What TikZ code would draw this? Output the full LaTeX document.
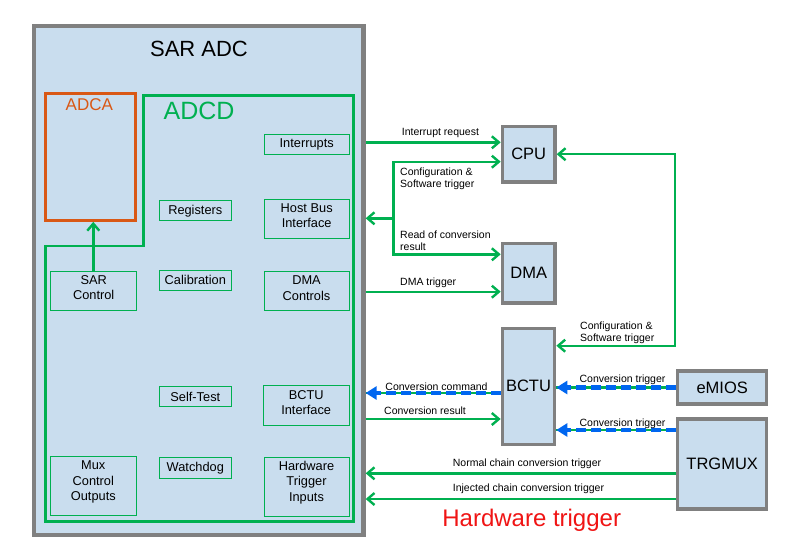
\documentclass[tikz,border=0pt]{standalone}
\usepackage{fontspec}
\setmainfont{Liberation Sans}
\usetikzlibrary{arrows.meta}
\definecolor{gfill}{RGB}{201,221,238}
\definecolor{ggreen}{RGB}{0,176,80}
\definecolor{gblue}{RGB}{0,102,240}
\definecolor{gorange}{RGB}{217,88,21}
\definecolor{ggray}{RGB}{128,128,128}
\definecolor{hwred}{RGB}{240,20,20}
\begin{document}
\begin{tikzpicture}[x=1pt,y=-1pt,
  bigbox/.style={draw=ggray, line width=3.3pt, fill=gfill, inner sep=0pt, font=\fontsize{16.5}{19}\selectfont},
  inbox/.style={draw=ggreen, line width=0.8pt, inner sep=0pt, align=center, font=\fontsize{12.8}{15.4}\selectfont},
  twoline/.style={text depth=6pt},
  threeline/.style={text depth=11pt},
  lab/.style={font=\fontsize{10.5}{12}\selectfont, inner sep=0pt, align=left},
  gline/.style={draw=ggreen, line width=2.4pt},
  garr/.style={gline, -{Straight Barb[length=7pt,width=12pt]}},
  garrb/.style={gline, {Straight Barb[length=7pt,width=12pt]}-{Straight Barb[length=7pt,width=12pt]}},
  barr/.style={draw=gblue, line width=4.5pt, dash pattern=on 10pt off 5pt, -{Triangle[length=11pt,width=13pt]}},
  bline/.style={draw=ggreen, line width=2.2pt}]
\useasboundingbox (0,0) rectangle (786,552);
\fill[white] (0,0) rectangle (786,552);

% SAR ADC outer box
\node[draw=ggray, line width=4.3pt, fill=gfill, minimum width=329.2pt, minimum height=509pt] (sar) at (198.9,280.5) {};
\node[anchor=base, font=\fontsize{22}{26}\selectfont] (sartitle) at (199,56) {SAR ADC};

% ADCA
\node[draw=gorange, line width=2.7pt, minimum width=90pt, minimum height=127.2pt] (adca) at (90.3,156.9) {};
\node[anchor=base, text=gorange, font=\fontsize{17}{20}\selectfont] (adcalabel) at (89.3,110) {ADCA};

% ADCD outline
\draw[ggreen, line width=2.7pt, line join=miter] (45.3,246) -- (143.8,246) -- (143.8,95.2) -- (353.3,95.2) -- (353.3,521.5) -- (45.3,521.5) -- cycle;
\node[anchor=base, text=ggreen, font=\fontsize{25}{29}\selectfont] (adcdlabel) at (199,119.3) {ADCD};

% inner boxes
\node[inbox, minimum width=85pt, minimum height=20pt] (int) at (306.7,144.3) {Interrupts};
\node[inbox, minimum width=72.7pt, minimum height=20pt] (reg) at (195.3,210.7) {Registers};
\node[inbox, twoline, minimum width=85pt, minimum height=39pt] (hbi) at (306.7,218.8) {Host Bus\\Interface};
\node[inbox, twoline, minimum width=86pt, minimum height=38.3pt] (sarc) at (93.7,290.8) {SAR\\Control};
\node[inbox, minimum width=72.7pt, minimum height=20.7pt] (cal) at (195.3,280.3) {Calibration};
\node[inbox, twoline, minimum width=85pt, minimum height=39pt] (dmac) at (306.5,291.2) {DMA\\Controls};
\node[inbox, minimum width=72.7pt, minimum height=20pt] (self) at (195.3,396.7) {Self-Test};
\node[inbox, twoline, minimum width=85.7pt, minimum height=40pt] (bctui) at (306.2,405.7) {BCTU\\Interface};
\node[inbox, threeline, minimum width=85.3pt, minimum height=59pt] (mux) at (93.3,486.2) {Mux\\Control\\Outputs};
\node[inbox, minimum width=72.7pt, minimum height=20.7pt] (wd) at (195.3,468) {Watchdog};
\node[inbox, threeline, minimum width=85pt, minimum height=59pt] (hti) at (306.5,486.5) {Hardware\\Trigger\\Inputs};

\draw[garr] (sarc.north -| 93.3,0) -- (adca.south -| 93.3,0);

% right boxes
\node[bigbox, minimum width=52.7pt, minimum height=55.5pt] (cpu) at (528.7,154.2) {CPU};
\node[bigbox, minimum width=52.7pt, minimum height=59.7pt] (dma) at (528.7,273.2) {DMA};
\node[bigbox, minimum width=52.4pt, minimum height=116pt] (bctu) at (528.5,386.3) {BCTU};
\node[bigbox, minimum width=89pt, minimum height=33pt] (emios) at (722.2,387.5) {eMIOS};
\node[bigbox, minimum width=89pt, minimum height=90pt] (trg) at (722.2,464) {TRGMUX};

% connectors
\draw[garr] (sar.east |- 0,142.3) -- (cpu.west |- 0,142.3);
\coordinate (bus) at (393.3,218.3);
\draw[garrb] (cpu.west |- 0,161.7) -| (bus) |- (dma.west |- 0,254.3);
\draw[garr] (bus) -- (sar.east |- bus);
\draw[garr] (sar.east |- 0,291.7) -- (dma.west |- 0,291.7);
\draw[garrb] (cpu.east) -| (675,345.7) -- (bctu.east |- 0,345.7);

\draw[bline] (bctu.west |- 0,393) -- (sar.east |- 0,393);
\draw[barr] (bctu.west |- 0,393) -- (sar.east |- 0,393);
\draw[garr] (sar.east |- 0,419) -- (bctu.west |- 0,419);

\draw[bline] (emios.west) -- (bctu.east |- emios.west);
\draw[barr] (emios.west) -- (bctu.east |- emios.west);
\draw[bline] (trg.west |- 0,430) -- (bctu.east |- 0,430);
\draw[barr] (trg.west |- 0,430) -- (bctu.east |- 0,430);

\draw[garr] (trg.west |- 0,473.3) -- (sar.east |- 0,473.3);
\draw[garr] (trg.west |- 0,499) -- (sar.east |- 0,499);

% labels
\node[lab, anchor=base west] (l1) at (401.7,135) {Interrupt request};
\node[lab, anchor=base west] (l2) at (400,187.3) {Configuration \&\\Software trigger};
\node[lab, anchor=base west] (l3) at (400,250.7) {Read of conversion\\result};
\node[lab, anchor=base west] (l4) at (400,285.7) {DMA trigger};
\node[lab, anchor=base west] (l5) at (580,341.7) {Configuration \&\\Software trigger};
\node[lab, anchor=base] (l6) at (622.5,382.7) {Conversion trigger};
\node[lab, anchor=base] (l7) at (622.5,426) {Conversion trigger};
\node[lab, anchor=base] (l8) at (436.5,390) {Conversion command};
\node[lab, anchor=base west] (l9) at (384,414.3) {Conversion result};
\node[lab, anchor=base west] (l10) at (452.7,466.7) {Normal chain conversion trigger};
\node[lab, anchor=base west] (l11) at (452.7,491.7) {Injected chain conversion trigger};
\node[anchor=base, text=hwred, font=\fontsize{24}{28}\selectfont] (hw) at (531.7,526.7) {Hardware trigger};
\end{tikzpicture}
\end{document}
